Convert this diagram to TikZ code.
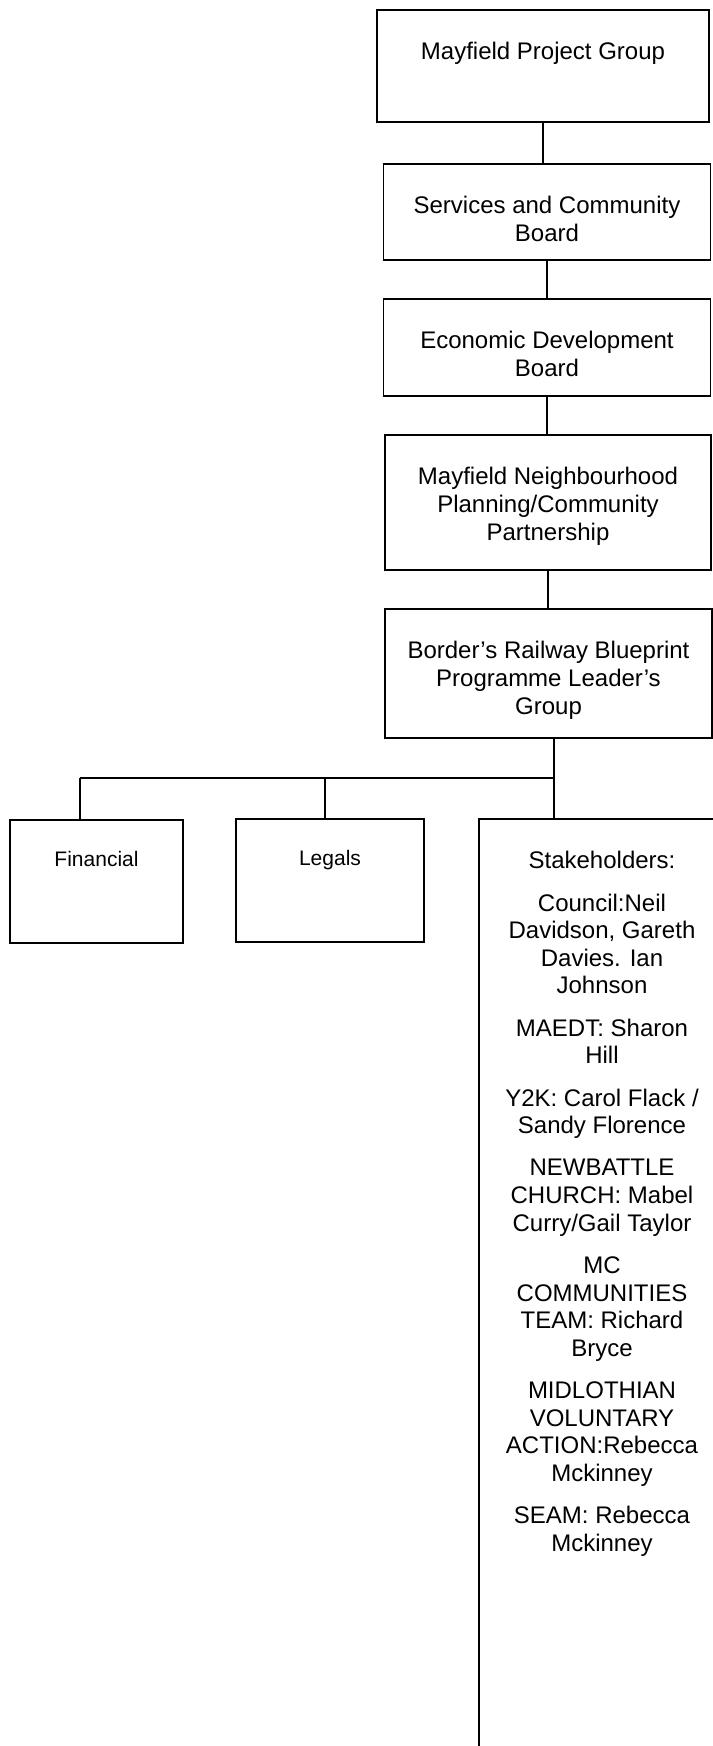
\documentclass[tikz,border=0pt]{standalone}
\usepackage{fontspec}
\setmainfont{Liberation Sans}

\tikzset{
  box/.style={draw, line width=1.2pt, inner sep=0pt},
  lbl/.style={anchor=north, inner sep=0pt, align=center, font=\fontsize{18}{20.7}\selectfont},
  slbl/.style={anchor=north, inner sep=0pt, align=center, font=\fontsize{15.75}{18.1}\selectfont},
  link/.style={line width=1.2pt},
}

\begin{document}
\begin{tikzpicture}[x=0.75pt,y=-0.75pt]
        \clip (0,0) rectangle (713,1746);
        \fill[white] (0,0) rectangle (713,1746);
        % main chain
        \node[box, minimum width=249pt, minimum height=84pt] (pgroup) at (543,66) {};
        \node[box, minimum width=245.25pt, minimum height=72pt] (scboard) at (547,212) {};
        \node[box, minimum width=245.25pt, minimum height=72.75pt] (edboard) at (547,347.5) {};
        \node[box, minimum width=244.5pt, minimum height=101.25pt] (mnp) at (548,502.5) {};
        \node[box, minimum width=245.25pt, minimum height=96.75pt] (brb) at (548.5,673.5) {};
        \node[lbl] at ([yshift=-24.75pt]pgroup.north) {Mayfield Project Group};
        \node[lbl] at ([yshift=-24.75pt]scboard.north) {Services and Community\\Board};
        \node[lbl] at ([yshift=-24.75pt]edboard.north) {Economic Development\\Board};
        \node[lbl] at ([yshift=-24.75pt]mnp.north) {Mayfield Neighbourhood\\Planning/Community\\Partnership};
        \node[lbl] at ([yshift=-24.75pt]brb.north) {Border’s Railway Blueprint\\Programme Leader’s\\Group};
        % bottom row
        \node[box, minimum width=129.75pt, minimum height=92.25pt] (fin) at (96.5,881.5) {};
        \node[box, minimum width=141pt, minimum height=92.25pt] (leg) at (330,880.5) {};
        \node[box, minimum width=184.5pt, minimum height=735.75pt] (stake) at (602,1309.5) {};
        \node[slbl] at ([yshift=-24pt]fin.north) {Financial};
        \node[slbl] at ([yshift=-24pt]leg.north) {Legals};
        \node[lbl] at ([yshift=-24.75pt]stake.north) {Stakeholders:\\[11pt]
            Council:Neil\\Davidson, Gareth\\Davies. Ian\\Johnson\\[11pt]
            MAEDT: Sharon\\Hill\\[11pt]
            Y2K: Carol Flack /\\Sandy Florence\\[11pt]
            NEWBATTLE\\CHURCH: Mabel\\Curry/Gail Taylor\\[11pt]
            MC\\COMMUNITIES\\TEAM: Richard\\Bryce\\[11pt]
            MIDLOTHIAN\\VOLUNTARY\\ACTION:Rebecca\\Mckinney\\[11pt]
            SEAM: Rebecca\\Mckinney};
        % connectors
        \draw[link] (pgroup.south) -- (pgroup.south |- scboard.north);
        \draw[link] (scboard.south) -- (scboard.south |- edboard.north);
        \draw[link] (edboard.south) -- (edboard.south |- mnp.north);
        \draw[link] (mnp.south) -- (mnp.south |- brb.north);
        \coordinate (jf) at (80,778);
        \coordinate (jl) at (325,778);
        \coordinate (js) at (554,778);
        \draw[link] (brb.south -| js) -- (js);
        \draw[link] (jf) -- (js);
        \draw[link] (jf) -- (jf |- fin.north);
        \draw[link] (jl) -- (jl |- leg.north);
        \draw[link] (js) -- (js |- stake.north);
\end{tikzpicture}
\end{document}
